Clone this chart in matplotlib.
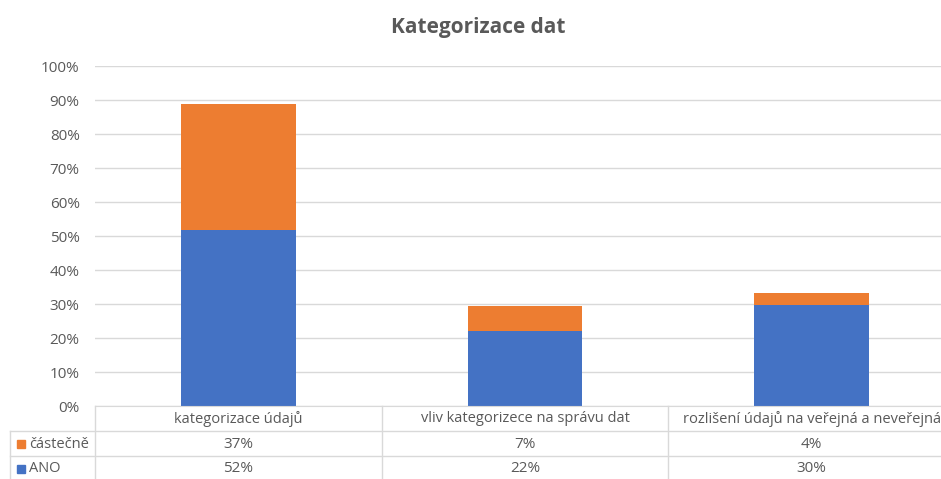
import matplotlib.pyplot as plt
import matplotlib.transforms as mtransforms
from matplotlib.patches import Rectangle

plt.rcParams['font.family'] = ['Open Sans', 'DejaVu Sans']

categories = ["kategorizace údajů", "vliv kategorizece na správu dat",
              "rozlišení údajů na veřejná a neveřejná"]
ano = [0.518, 0.221, 0.297]
castecne = [0.370, 0.074, 0.036]
series_names = ["částečně", "ANO"]
y_ticks = [i / 10 for i in range(11)]

BLUE = '#4472C4'
ORANGE = '#ED7D31'
TEXT = '#595959'
GRID = '#D9D9D9'

W, H = 941, 479


def fx(px):
    return px / W


def fy(py):
    return 1 - py / H


fig = plt.figure(figsize=(W / 100, H / 100), dpi=100)
# plot area runs a little past the right edge of the picture (cropped)
ax = fig.add_axes([fx(95), fy(406), (955 - 95) / W, (406 - 66) / H])

x = range(len(categories))
ax.bar(x, ano, width=0.40, color=BLUE, zorder=3)
ax.bar(x, castecne, width=0.40, bottom=ano, color=ORANGE, zorder=3)

ax.set_xlim(-0.5, len(categories) - 0.5)
ax.set_ylim(0, 1)
ax.set_yticks(y_ticks)
ax.set_yticklabels([f"{int(round(t * 100))}%" for t in y_ticks])
ax.tick_params(axis='y', length=0, labelsize=11, labelcolor=TEXT, pad=11)
ax.set_xticks([])
ax.grid(axis='y', color=GRID, linewidth=1, zorder=0)
for s in ['top', 'right', 'left']:
    ax.spines[s].set_visible(False)
ax.spines['bottom'].set_color(GRID)
ax.spines['bottom'].set_zorder(4)

fig.text(0.508, fy(28), "Kategorizace dat", ha='center', va='center',
         fontsize=15, fontweight='bold', color=TEXT)

# data table under the axis
tr = mtransforms.blended_transform_factory(ax.transData, fig.transFigure)
row_lines = [431, 456]
for py in row_lines:
    fig.add_artist(plt.Line2D([fx(10), 1], [fy(py), fy(py)], color=GRID, lw=1,
                              transform=fig.transFigure))
fig.add_artist(plt.Line2D([fx(95), fx(95)], [fy(406), 0], color=GRID, lw=1,
                          transform=fig.transFigure))
fig.add_artist(plt.Line2D([fx(10), fx(10)], [fy(431), 0], color=GRID, lw=1,
                          transform=fig.transFigure))
for b in range(1, len(categories)):
    fig.add_artist(plt.Line2D([b - 0.5, b - 0.5], [fy(406), 0], color=GRID, lw=1,
                              transform=tr))

for i, cat in enumerate(categories):
    fig.text(i, fy(419), cat, transform=tr, ha='center', va='center',
             fontsize=10.5, color=TEXT)
    fig.text(i, fy(444), f"{castecne[i]:.0%}", transform=tr, ha='center',
             va='center', fontsize=11, color=TEXT)
    fig.text(i, fy(469), f"{ano[i]:.0%}", transform=tr, ha='center',
             va='center', fontsize=11, color=TEXT)

for name, color, py in [(series_names[0], ORANGE, 444), (series_names[1], BLUE, 469)]:
    fig.add_artist(Rectangle((fx(17), fy(py + 4)), 8 / W, 8 / H, color=color,
                             transform=fig.transFigure))
    fig.text(fx(29), fy(py), name, ha='left', va='center', fontsize=10.5, color=TEXT)

fig.savefig("out.png", dpi=100)
